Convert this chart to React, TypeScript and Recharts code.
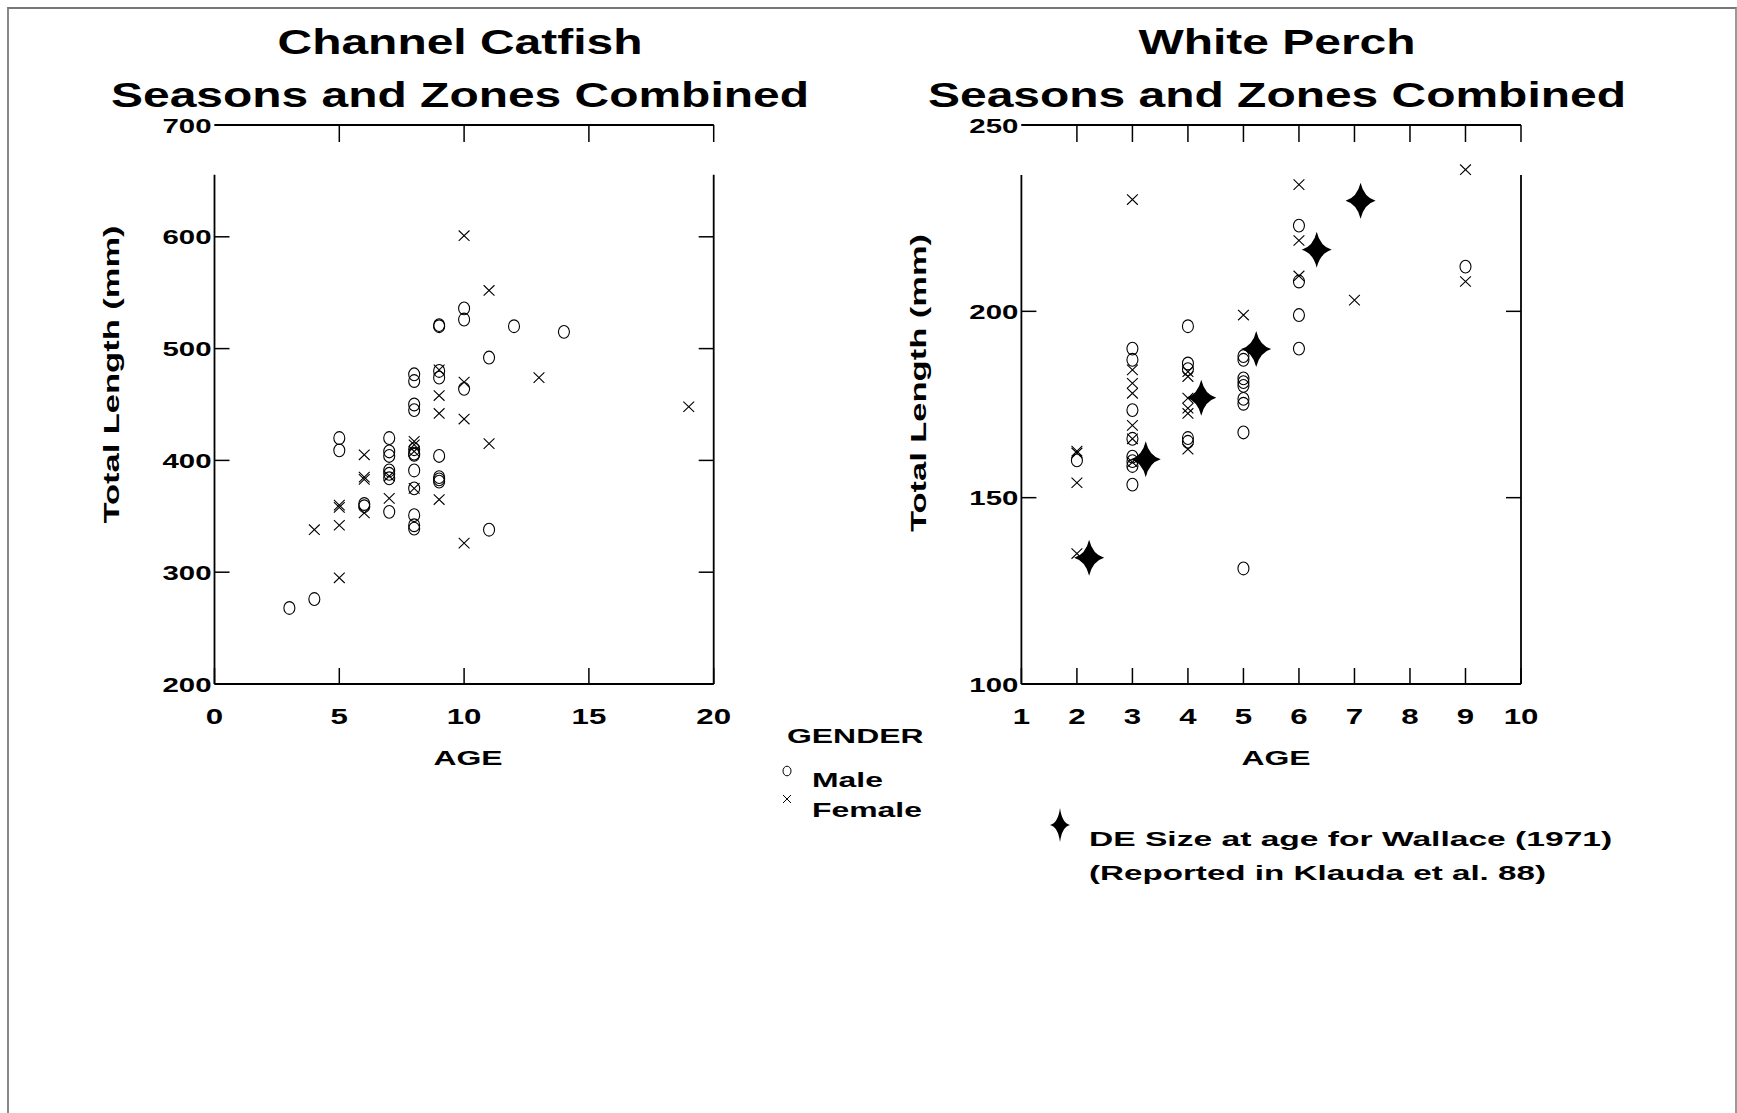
import React from "react";
import { ScatterChart, Scatter, XAxis, YAxis, ReferenceLine } from "recharts";

// Channel Catfish / White Perch: total length vs age, seasons and zones combined.
// Points are [age, total length mm].

const catfishMale: [number, number][] = [
  [3, 268], [4, 276], [5, 420], [5, 409], [6, 361], [6, 359],
  [7, 420], [7, 408], [7, 404], [7, 391], [7, 388], [7, 384], [7, 354],
  [8, 477], [8, 471], [8, 450], [8, 445], [8, 410], [8, 406], [8, 405], [8, 391],
  [8, 375], [8, 351], [8, 342], [8, 339],
  [9, 521], [9, 520], [9, 480], [9, 474], [9, 404], [9, 385], [9, 383], [9, 381],
  [10, 536], [10, 526], [10, 464], [11, 492], [11, 338], [12, 520], [14, 515],
];

const catfishFemale: [number, number][] = [
  [4, 338], [5, 360], [5, 358], [5, 342], [5, 295],
  [6, 405], [6, 385], [6, 383], [6, 353], [7, 386], [7, 366],
  [8, 417], [8, 414], [8, 408], [8, 375],
  [9, 481], [9, 458], [9, 442], [9, 365],
  [10, 601], [10, 470], [10, 437], [10, 326], [11, 552], [11, 415], [13, 474], [19, 448],
];

const perchMale: [number, number][] = [
  [2, 160],
  [3, 190], [3, 187], [3, 173.5], [3, 165.8], [3, 161], [3, 159.8], [3, 158.5], [3, 153.5],
  [4, 196], [4, 186], [4, 184.5], [4, 166], [4, 165],
  [5, 188], [5, 187], [5, 182], [5, 181], [5, 180], [5, 176.5], [5, 175.2], [5, 167.5], [5, 131],
  [6, 223], [6, 208], [6, 199], [6, 190], [9, 212],
];

const perchFemale: [number, number][] = [
  [2, 162.5], [2, 162], [2, 154], [2, 135],
  [3, 230], [3, 184.3], [3, 180.7], [3, 178], [3, 169.4], [3, 165.8], [3, 159.5],
  [4, 183.8], [4, 182.5], [4, 176.7], [4, 174], [4, 172.6], [4, 163],
  [5, 199], [6, 234], [6, 219], [6, 209.5], [7, 203], [9, 238], [9, 208],
];

// DE size at age, Wallace (1971)
const wallace: [number, number][] = [
  [2.22, 133.9], [3.24, 160.3], [4.24, 176.8], [5.23, 189.9], [6.32, 216.5], [7.11, 229.7],
];

const catfishAgeTicks = [0, 5, 10, 15, 20];
const catfishLenTicks = [200, 300, 400, 500, 600, 700];
const perchAgeTicks = [1, 2, 3, 4, 5, 6, 7, 8, 9, 10];
const perchLenTicks = [100, 150, 200, 250];

const FONT = '"Liberation Sans", Arial, Helvetica, sans-serif';
const SX = 1.52; // the original's type is stretched sideways
const LINE = 1.8;

const pts = (rows: [number, number][]) => rows.map(([age, len]) => ({ age, len }));

const starPath = (cx: number, cy: number, w: number, h: number, k = 2.8) =>
  `M${cx},${cy - h} Q${cx + k},${cy - k} ${cx + w},${cy} Q${cx + k},${cy + k} ${cx},${cy + h} Q${cx - k},${cy + k} ${cx - w},${cy} Q${cx - k},${cy - k} ${cx},${cy - h}Z`;

const Ring = (p: any) => (
  <ellipse cx={p.cx} cy={p.cy} rx={5.5} ry={6.4} fill="none" stroke="#000" strokeWidth={1.1} />
);
const Cross = (p: any) => (
  <path
    d={`M${p.cx - 5.4},${p.cy - 5.2}L${p.cx + 5.4},${p.cy + 5.2}M${p.cx + 5.4},${p.cy - 5.2}L${p.cx - 5.4},${p.cy + 5.2}`}
    stroke="#000"
    strokeWidth={1.1}
  />
);
const Star = (p: any) => <path d={starPath(p.cx, p.cy, 15, 18, 3.4)} fill="#000" />;
const Hidden = () => <g />;

function T({ x, y, size, sx = SX, anchor = "start", rotate = 0, children }: any) {
  return (
    <text
      transform={`translate(${x} ${y}) rotate(${rotate}) scale(${sx} 1)`}
      fontSize={size}
      fontWeight="bold"
      fontFamily={FONT}
      textAnchor={anchor}
      fill="#000"
    >
      {children}
    </text>
  );
}

// ticks point inward, labels sit outside
const BottomTick = ({ x, y, payload }: any) => (
  <g>
    <line x1={x} y1={y} x2={x} y2={y - 16} stroke="#000" strokeWidth={1.5} />
    <T x={x} y={y + 39.5} size={22} sx={1.42} anchor="middle">{payload.value}</T>
  </g>
);
const TopTick = ({ x, y, index }: any) =>
  index === 0 ? <g /> : <line x1={x} y1={y} x2={x} y2={y + 17} stroke="#000" strokeWidth={1.5} />;
const LeftTick = ({ x, y, payload }: any) => (
  <g>
    <line x1={x} y1={y} x2={x + 15} y2={y} stroke="#000" strokeWidth={1.5} />
    <T x={x - 3} y={y + 7.5} size={21} sx={1.4} anchor="end">{payload.value}</T>
  </g>
);
const RightTick = ({ x, y }: any) => (
  <line x1={x} y1={y} x2={x - 15} y2={y} stroke="#000" strokeWidth={1.5} />
);

type PanelProps = {
  left: number;
  marginLeft: number;
  marginRight: number;
  xDomain: [number, number];
  yDomain: [number, number];
  xTicks: number[];
  yTicks: number[];
  sideTop: number;
  male: [number, number][];
  female: [number, number][];
  extra?: [number, number][];
};

function Panel(p: PanelProps) {
  const [x0, x1] = p.xDomain;
  const [y0] = p.yDomain;
  return (
    <div style={{ position: "absolute", left: p.left, top: 0 }}>
      <ScatterChart
        width={800}
        height={760}
        margin={{ top: 124, right: p.marginRight - 1, bottom: 36, left: p.marginLeft }}
      >
        <XAxis
          dataKey="age"
          type="number"
          domain={p.xDomain}
          ticks={p.xTicks}
          interval={0}
          height={40}
          tickSize={0}
          tickMargin={0}
          tickLine={false}
          axisLine={{ stroke: "#000", strokeWidth: LINE }}
          tick={BottomTick}
          allowDataOverflow
        />
        <XAxis
          xAxisId="top"
          orientation="top"
          dataKey="age"
          type="number"
          domain={p.xDomain}
          ticks={p.xTicks}
          interval={0}
          height={1}
          tickSize={0}
          tickMargin={0}
          tickLine={false}
          axisLine={{ stroke: "#000", strokeWidth: LINE }}
          tick={TopTick}
          allowDataOverflow
        />
        <YAxis
          dataKey="len"
          type="number"
          domain={p.yDomain}
          ticks={p.yTicks}
          interval={0}
          width={60}
          tickSize={0}
          tickMargin={0}
          tickLine={false}
          axisLine={false}
          tick={LeftTick}
          allowDataOverflow
        />
        <YAxis
          yAxisId="right"
          orientation="right"
          dataKey="len"
          type="number"
          domain={p.yDomain}
          ticks={p.yTicks}
          interval={0}
          width={1}
          tickSize={0}
          tickMargin={0}
          tickLine={false}
          axisLine={false}
          tick={RightTick}
          allowDataOverflow
        />
        <ReferenceLine
          segment={[{ x: x0, y: y0 }, { x: x0, y: p.sideTop }]}
          stroke="#000"
          strokeWidth={LINE}
          ifOverflow="visible"
        />
        <ReferenceLine
          segment={[{ x: x1, y: y0 }, { x: x1, y: p.sideTop }]}
          stroke="#000"
          strokeWidth={LINE}
          ifOverflow="visible"
        />
        {/* binds the frame axes (top / right) so they get drawn */}
        <Scatter
          xAxisId="top"
          yAxisId="right"
          data={pts(p.male)}
          shape={Hidden}
          isAnimationActive={false}
          legendType="none"
        />
        <Scatter data={pts(p.male)} shape={Ring} isAnimationActive={false} />
        <Scatter data={pts(p.female)} shape={Cross} isAnimationActive={false} />
        {p.extra && <Scatter data={pts(p.extra)} shape={Star} isAnimationActive={false} />}
      </ScatterChart>
    </div>
  );
}

export default function App() {
  return (
    <div style={{ position: "absolute", left: 0, top: 0, width: 1737, height: 1113, background: "#fff" }}>
      <div
        style={{
          position: "absolute",
          left: 7,
          top: 7,
          width: 1730,
          height: 1106,
          boxSizing: "border-box",
          borderTop: "2px solid #777",
          borderLeft: "2px solid #888",
          borderRight: "2px solid #999",
        }}
      />
      <Panel
        left={0}
        marginLeft={154.5}
        marginRight={86.3}
        xDomain={[0, 20]}
        yDomain={[200, 700]}
        xTicks={catfishAgeTicks}
        yTicks={catfishLenTicks}
        sideTop={655.4}
        male={catfishMale}
        female={catfishFemale}
      />
      <Panel
        left={770}
        marginLeft={191.4}
        marginRight={49}
        xDomain={[1, 10]}
        yDomain={[100, 250]}
        xTicks={perchAgeTicks}
        yTicks={perchLenTicks}
        sideTop={236.6}
        male={perchMale}
        female={perchFemale}
        extra={wallace}
      />
      <svg
        width={1737}
        height={1113}
        style={{ position: "absolute", left: 0, top: 0, pointerEvents: "none" }}
      >
        <T x={460} y={54} size={35} sx={1.37} anchor="middle">Channel Catfish</T>
        <T x={460} y={107} size={35} sx={1.37} anchor="middle">Seasons and Zones Combined</T>
        <T x={1277} y={54} size={35} sx={1.37} anchor="middle">White Perch</T>
        <T x={1277} y={107} size={35} sx={1.37} anchor="middle">Seasons and Zones Combined</T>

        <T x={468} y={765} size={21} anchor="middle">AGE</T>
        <T x={1276} y={765} size={21} anchor="middle">AGE</T>
        <T x={119} y={374.5} size={23} sx={1.5} rotate={-90} anchor="middle">Total Length  (mm)</T>
        <T x={926} y={383} size={23} sx={1.5} rotate={-90} anchor="middle">Total Length (mm)</T>

        <T x={787} y={743} size={21}>GENDER</T>
        <ellipse cx={787} cy={771} rx={4} ry={4.8} fill="none" stroke="#000" strokeWidth={1} />
        <T x={812} y={787} size={21}>Male</T>
        <path d="M783,795L791,803M791,795L783,803" stroke="#000" strokeWidth={1} />
        <T x={812} y={817} size={21}>Female</T>

        <path d={starPath(1060, 825, 10, 17, 2)} fill="#000" />
        <T x={1089} y={846} size={21} sx={1.6}>DE Size at age for Wallace (1971)</T>
        <T x={1089} y={880} size={21} sx={1.58}>(Reported in Klauda et al. 88)</T>
      </svg>
    </div>
  );
}
